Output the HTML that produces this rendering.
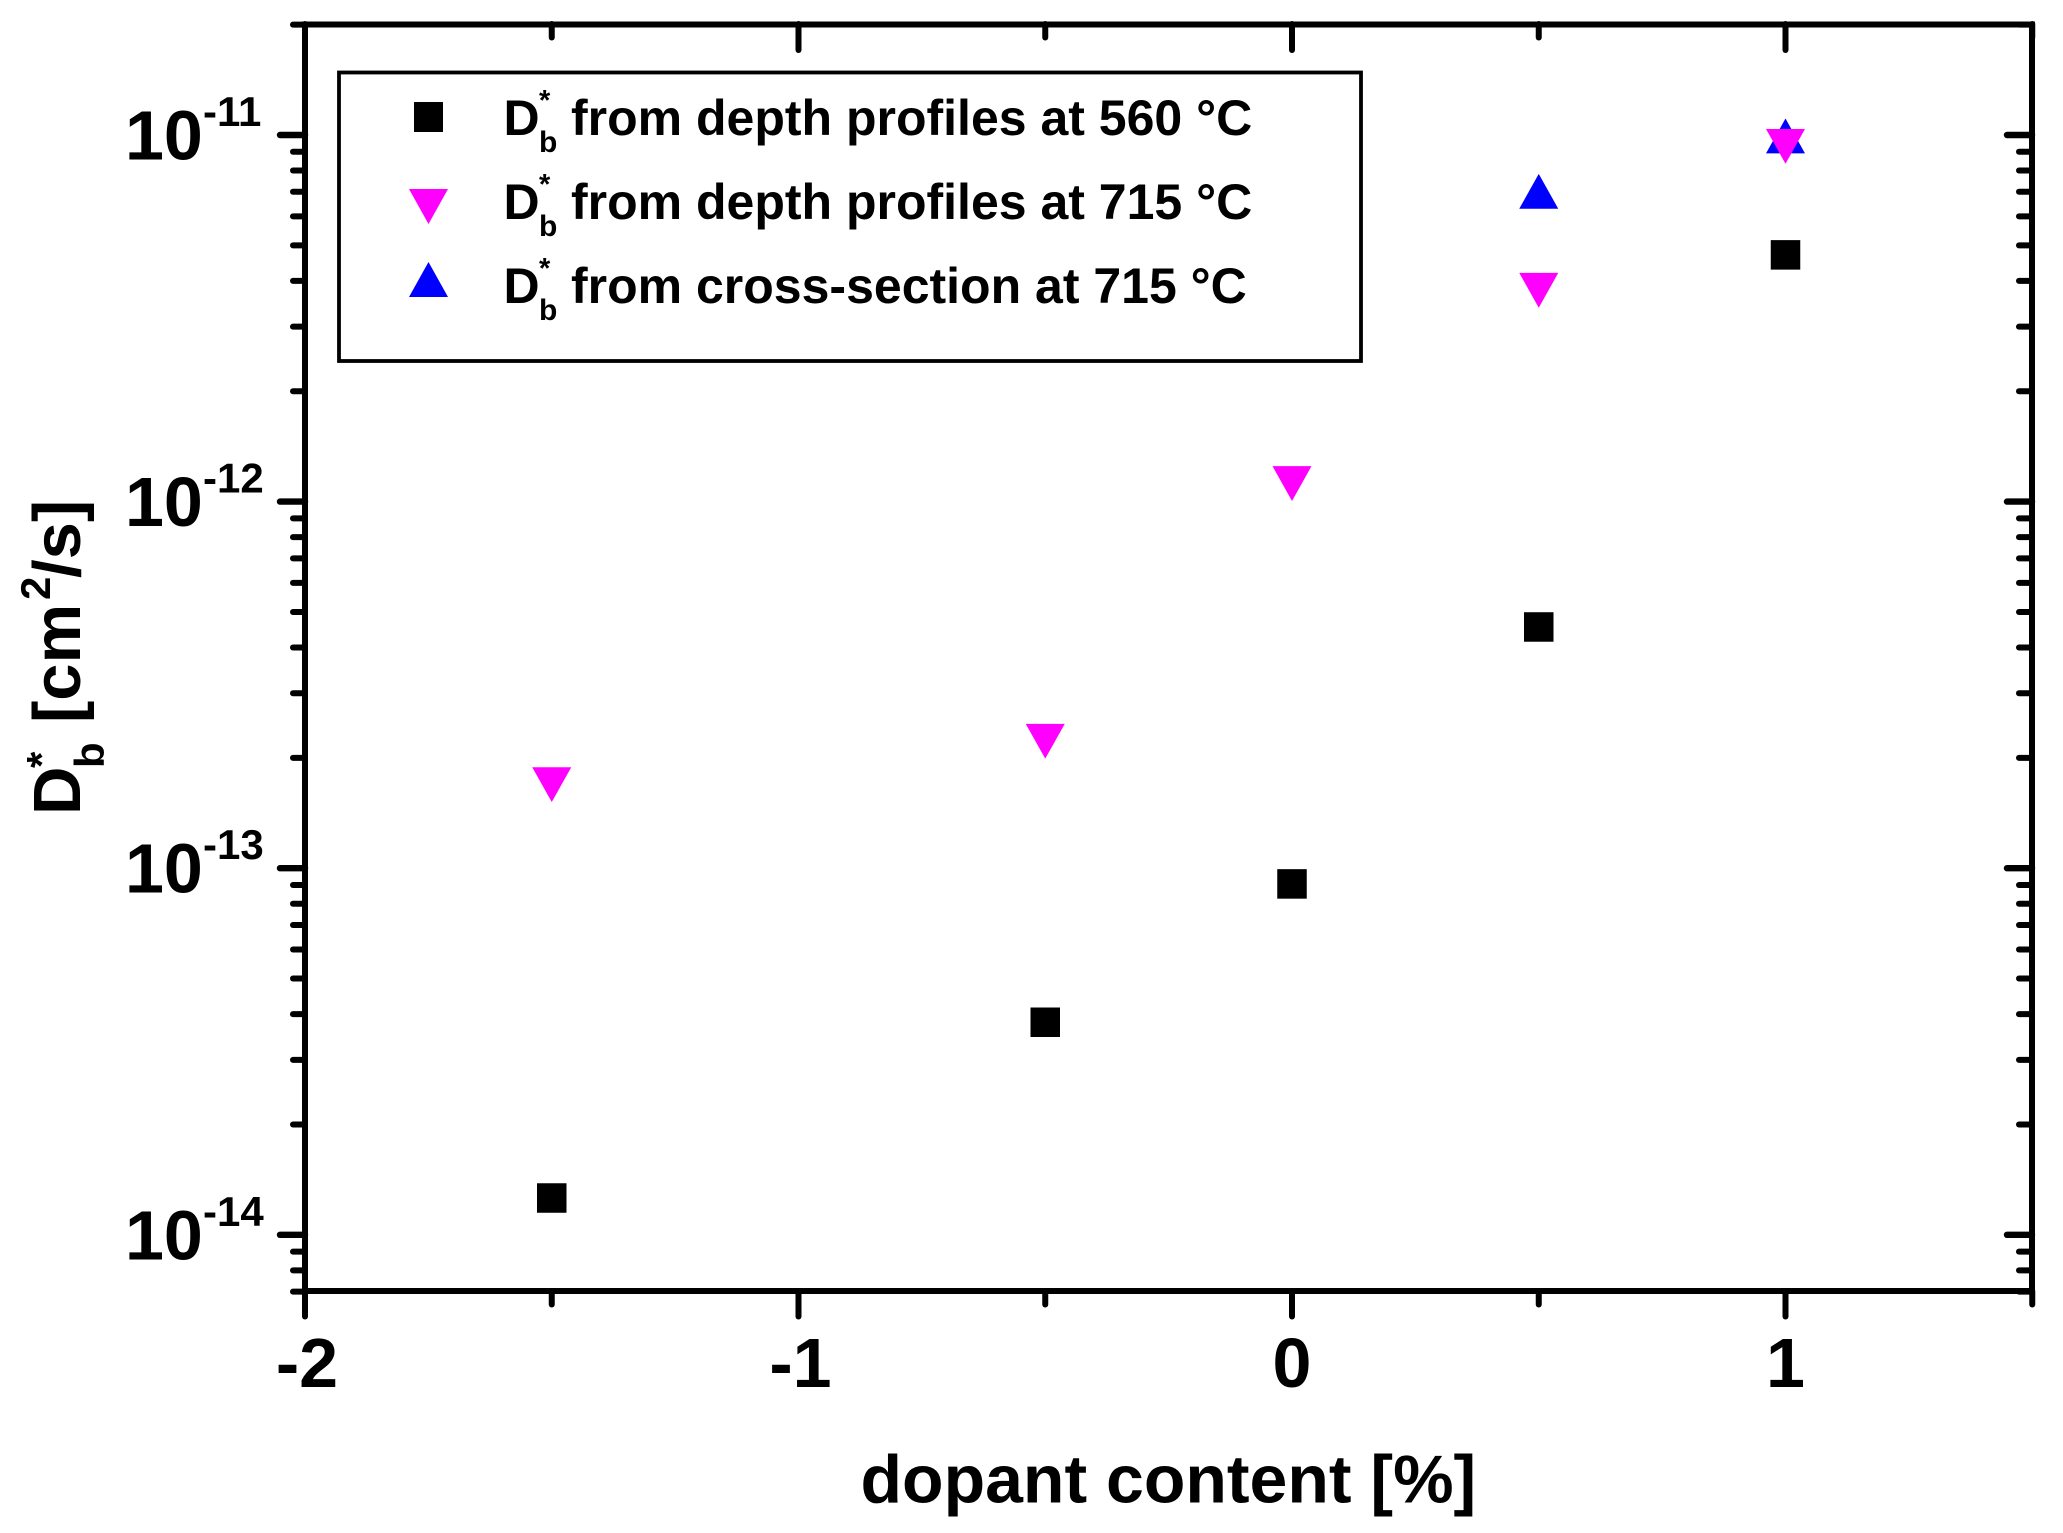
<!DOCTYPE html>
<html lang="en">
<head>
<meta charset="utf-8">
<title>Db* versus dopant content</title>
<style>
html,body{margin:0;padding:0;background:#fff;width:2063px;height:1533px;overflow:hidden}
svg{display:block}
text{font-family:"Liberation Sans",Arial,sans-serif;font-weight:bold;fill:#000}
</style>
</head>
<body>
<svg id="chart" xmlns="http://www.w3.org/2000/svg" width="2063" height="1533" viewBox="0 0 2063 1533">
  <rect x="0" y="0" width="2063" height="1533" fill="#fff"/>
  <g id="ticks"></g>
  <rect x="305" y="24.5" width="1727" height="1266.5" fill="none" stroke="#000" stroke-width="6"/>
  <g id="tick-labels"></g>
  <g id="marks"></g>

  <g>
    <rect x="339" y="72.5" width="1022" height="288.5" fill="#fff" stroke="#000" stroke-width="3.8"/>
    <rect x="414" y="102" width="29" height="30" fill="#000"/>
    <polygon points="409,189 448,189 428.5,224" fill="#ff00ff"/>
    <polygon points="428.5,262 448,297 409,297" fill="#0000ff"/>

    <g>
      <text x="503.5" y="135" font-size="50">D</text>
      <text x="539" y="110" font-size="29">*</text>
      <text x="539" y="152" font-size="30">b</text>
      <text x="571" y="135" font-size="50">from depth profiles at 560 °C</text>
    </g>
    <g>
      <text x="503.5" y="219" font-size="50">D</text>
      <text x="539" y="194" font-size="29">*</text>
      <text x="539" y="236" font-size="30">b</text>
      <text x="571" y="219" font-size="50">from depth profiles at 715 °C</text>
    </g>
    <g>
      <text x="503.5" y="303" font-size="50">D</text>
      <text x="539" y="278" font-size="29">*</text>
      <text x="539" y="320" font-size="30">b</text>
      <text x="571" y="303" font-size="50">from cross-section at 715 °C</text>
    </g>
  </g>

  <text x="860.5" y="1502.5" font-size="68">dopant content [%]</text>

  <g transform="translate(80,815) rotate(-90)">
    <text x="0" y="0" font-size="67">D</text>
    <text x="47" y="-24" font-size="42">*</text>
    <text x="47" y="24" font-size="42">b</text>
    <text x="92" y="0" font-size="67">[cm</text>
    <text x="215" y="-30" font-size="42">2</text>
    <text x="237" y="0" font-size="67">/s]</text>
  </g>
</svg>
<script>
const xCategories = [-1.5, -0.5, 0, 0.5, 1];
const depth560 = [1.26e-14, 3.80e-14, 9.06e-14, 4.55e-13, 4.71e-12];
const depth715 = [1.69e-13, 2.22e-13, 1.12e-12, 3.77e-12, 9.31e-12];
const crossX = [0.5, 1];
const cross715 = [7.02e-12, 9.94e-12];
const xMajorTicks = [-2, -1, 0, 1];
const xMinorTicks = [-1.5, -0.5, 0.5, 1.5];
const xTickLabels = ['-2', '-1', '0', '1'];
const yDecades = [-14, -13, -12, -11];
const yTickExponents = ['-14', '-13', '-12', '-11'];
const yMinorMantissas = [2, 3, 4, 5, 6, 7, 8, 9];
const yMinLimit = 7e-15;
const yMaxLimit = 2e-11;

const NS = 'http://www.w3.org/2000/svg';
const xScale = v => 305 + (v + 2) * 493.5;
const yScale = v => 135 + (-11 - Math.log10(v)) * 366.6;
const ticksG = document.getElementById('ticks');
const labelsG = document.getElementById('tick-labels');
const marksG = document.getElementById('marks');

function tick(x1, y1, x2, y2, width, name) {
  const l = document.createElementNS(NS, 'line');
  l.setAttribute('x1', x1);
  l.setAttribute('y1', y1);
  l.setAttribute('x2', x2);
  l.setAttribute('y2', y2);
  l.setAttribute('stroke', '#000');
  l.setAttribute('stroke-width', width);
  l.setAttribute('stroke-linecap', 'round');
  
  
  ticksG.appendChild(l);
}

function minorY(v) {
  const ym = yScale(v);
  tick(305, ym, 293, ym, 6, 'y-minor-tick-left');
  tick(2032, ym, 2019, ym, 6, 'y-minor-tick-right');
}

xMajorTicks.forEach(v => {
  const x = xScale(v);
  tick(x, 24, x, 50, 6, 'x-major-tick-top');
  tick(x, 1291, x, 1316.5, 6, 'x-major-tick-bottom');
});
xMinorTicks.forEach(v => {
  const x = xScale(v);
  tick(x, 24, x, 37.5, 6, 'x-minor-tick-top');
  tick(x, 1291, x, 1304.5, 6, 'x-minor-tick-bottom');
});
yDecades.forEach(e => {
  const y = yScale(Math.pow(10, e));
  tick(305, y, 280, y, 6.4, 'y-major-tick-left');
  tick(2032, y, 2007, y, 6.4, 'y-major-tick-right');
  yMinorMantissas.forEach(m => {
    const v = m * Math.pow(10, e);
    if (v <= yMaxLimit * 1.001) minorY(v);
    const below = m * Math.pow(10, e - 1);
    if (e === yDecades[0] && below >= yMinLimit * 0.999) minorY(below);
  });
});

xMajorTicks.forEach((v, i) => {
  const t = document.createElementNS(NS, 'text');
  t.setAttribute('x', xScale(v) + (v < 0 ? 2 : 0));
  t.setAttribute('y', 1387);
  t.setAttribute('font-size', 70);
  t.setAttribute('text-anchor', 'middle');
  t.textContent = xTickLabels[i];
  
  
  labelsG.appendChild(t);
});

yDecades.forEach((e, i) => {
  const y = yScale(Math.pow(10, e));
  const g = document.createElementNS(NS, 'g');
  
  
  const base = document.createElementNS(NS, 'text');
  base.setAttribute('x', 125);
  base.setAttribute('y', y + 24.5);
  base.setAttribute('font-size', 70);
  base.textContent = '10';
  
  
  g.appendChild(base);
  const exp = document.createElementNS(NS, 'text');
  exp.setAttribute('x', 203);
  exp.setAttribute('y', y - 9);
  exp.setAttribute('font-size', 42);
  exp.textContent = yTickExponents[i];
  
  
  g.appendChild(exp);
  labelsG.appendChild(g);
});

function drawSquare(xv, yv) {
  const r = document.createElementNS(NS, 'rect');
  r.setAttribute('x', xScale(xv) - 14.75);
  r.setAttribute('y', yScale(yv) - 14.75);
  r.setAttribute('width', 29.5);
  r.setAttribute('height', 29.5);
  r.setAttribute('fill', '#000');
  
  
  marksG.appendChild(r);
}
function drawTriangle(xv, yv, dir, color, name) {
  const cx = xScale(xv), cy = yScale(yv);
  const p = document.createElementNS(NS, 'polygon');
  p.setAttribute('points', [
    (cx - 19.5) + ',' + (cy - dir * 17.4),
    (cx + 19.5) + ',' + (cy - dir * 17.4),
    cx + ',' + (cy + dir * 17.4)
  ].join(' '));
  p.setAttribute('fill', color);
  
  
  marksG.appendChild(p);
}
xCategories.forEach((x, i) => drawSquare(x, depth560[i]));
crossX.forEach((x, i) => drawTriangle(x, cross715[i], -1, '#0000ff', 'point-cross-section-715'));
xCategories.forEach((x, i) => drawTriangle(x, depth715[i], 1, '#ff00ff', 'point-depth-715'));
</script>
</body>
</html>
